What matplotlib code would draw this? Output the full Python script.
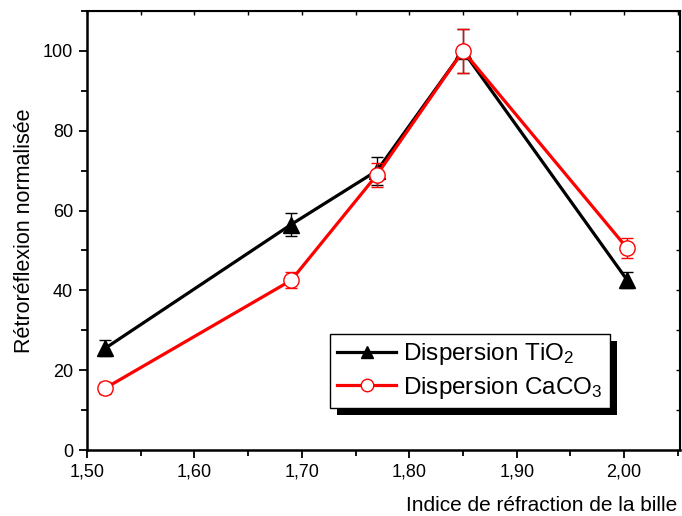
import matplotlib
matplotlib.use("Agg")
import matplotlib.pyplot as plt
from matplotlib.patches import Rectangle
from matplotlib.lines import Line2D
from matplotlib.ticker import MultipleLocator, NullFormatter

plt.rcParams['font.family'] = ['Liberation Sans', 'DejaVu Sans']
plt.rcParams['mathtext.fontset'] = 'custom'
plt.rcParams['mathtext.rm'] = 'Liberation Sans'
plt.rcParams['mathtext.it'] = 'Liberation Sans'

# data
indice = [1.517, 1.69, 1.77, 1.85, 2.003]
tio2 = [25.5, 56.5, 70.0, 100.0, 42.5]
tio2_err = [2.0, 3.0, 3.5, 5.5, 2.0]
caco3 = [15.5, 42.5, 69.0, 100.0, 50.5]
caco3_err = [1.5, 2.0, 3.0, 5.5, 2.5]

x_ticks = [1.50, 1.60, 1.70, 1.80, 1.90, 2.00]
x_labels = ["1,50", "1,60", "1,70", "1,80", "1,90", "2,00"]
y_ticks = [0, 20, 40, 60, 80, 100]

fig = plt.figure(figsize=(6.82, 5.16), dpi=100)
ax = fig.add_axes([0.1276, 0.1279, 0.8695, 0.8508])

ax.errorbar(indice, tio2, yerr=tio2_err, color='black', lw=2.3,
            marker='^', ms=11, mfc='black', mec='black',
            ecolor='black', elinewidth=1, capsize=4, capthick=1, zorder=3)
ax.errorbar(indice, caco3, yerr=caco3_err, color='#ff0000', lw=2.3,
            marker='o', ms=11, mfc='white', mec='#ff0000', mew=1,
            ecolor='#ff0000', elinewidth=1, capsize=4, capthick=1, zorder=4)

ax.set_xlim(1.50, 2.052)
ax.set_ylim(0, 110)
ax.set_xticks(x_ticks)
ax.set_xticklabels(x_labels)
ax.set_yticks(y_ticks)
ax.xaxis.set_minor_locator(MultipleLocator(0.05))
ax.yaxis.set_minor_locator(MultipleLocator(10))

ax.tick_params(which='both', direction='out', labelsize=13, width=1.3, pad=4,
               top=False, right=False)
ax.tick_params(which='major', length=6)
ax.tick_params(which='minor', length=4)
for side in ['top', 'right']:
    ax.spines[side].set_linewidth(1.5)
for side in ['left', 'bottom']:
    ax.spines[side].set_linewidth(1.8)

# top and right axes: short inward ticks, no labels
top = ax.secondary_xaxis('top')
top.set_xticks(x_ticks)
top.xaxis.set_minor_locator(MultipleLocator(0.05))
top.xaxis.set_major_formatter(NullFormatter())
top.tick_params(which='both', direction='in', length=3, width=1)
right = ax.secondary_yaxis('right')
right.set_yticks(y_ticks)
right.yaxis.set_minor_locator(MultipleLocator(10))
right.yaxis.set_major_formatter(NullFormatter())
right.tick_params(which='both', direction='in', length=3, width=1)

ax.set_xlabel('Indice de réfraction de la bille', fontsize=15, x=0.995,
              ha='right', labelpad=11)
ax.set_ylabel('Rétroréflexion normalisée', fontsize=15.5, labelpad=6)

handles = [
    Line2D([], [], color='black', lw=2.3, marker='^', ms=9, mfc='black', mec='black'),
    Line2D([], [], color='#ff0000', lw=2.3, marker='o', ms=9, mfc='white', mec='#ff0000'),
]
labels = ['Dispersion TiO$_2$', 'Dispersion CaCO$_3$']
leg = ax.legend(handles, labels, loc='lower left', bbox_to_anchor=(0.41, 0.096),
                fontsize=17.5, frameon=True, fancybox=False, edgecolor='black',
                framealpha=1, handlelength=2.4, borderpad=0.3, labelspacing=0.3,
                handletextpad=0.3, borderaxespad=0)
leg.get_frame().set_linewidth(1)
leg.set_zorder(6)

fig.canvas.draw()
bb = leg.get_window_extent()
shadow = Rectangle((bb.x0 + 7, bb.y0 - 7), bb.width, bb.height,
                   transform=None, facecolor='black', edgecolor='none',
                   zorder=5.5, clip_on=False)
ax.add_patch(shadow)

fig.savefig('out.png', dpi=100)
